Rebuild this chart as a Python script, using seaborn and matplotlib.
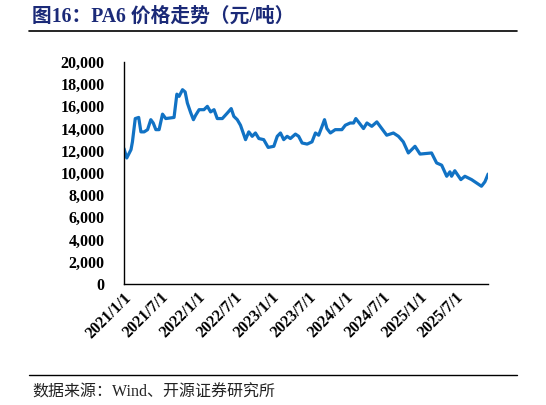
import pandas as pd
import matplotlib
matplotlib.use("Agg")
import matplotlib.pyplot as plt
from matplotlib.ticker import FuncFormatter
import seaborn as sns

# PA6 price readings (yuan/ton)
fechas = [
    "2021-01-01", "2021-01-15", "2021-02-05", "2021-02-12", "2021-02-26", "2021-03-15",
    "2021-03-26", "2021-04-11", "2021-04-28", "2021-05-14", "2021-05-26", "2021-06-08",
    "2021-06-24", "2021-07-11", "2021-07-27", "2021-09-06", "2021-09-20", "2021-10-01",
    "2021-10-18", "2021-10-31", "2021-11-11", "2021-11-28", "2021-12-11", "2021-12-22",
    "2022-01-08", "2022-02-01", "2022-02-18", "2022-03-06", "2022-03-23", "2022-04-08",
    "2022-05-03", "2022-05-28", "2022-06-16", "2022-06-29", "2022-07-16", "2022-08-01",
    "2022-08-26", "2022-09-11", "2022-09-28", "2022-10-14", "2022-10-31", "2022-11-24",
    "2022-12-16", "2023-01-13", "2023-01-30", "2023-02-15", "2023-03-03", "2023-03-20",
    "2023-04-05", "2023-04-30", "2023-05-16", "2023-06-02", "2023-06-27", "2023-07-21",
    "2023-08-07", "2023-08-23", "2023-09-09", "2023-09-21", "2023-10-03", "2023-10-20",
    "2023-11-13", "2023-12-16", "2024-01-02", "2024-01-26", "2024-02-12", "2024-02-23",
    "2024-03-11", "2024-04-01", "2024-04-18", "2024-05-12", "2024-06-06", "2024-07-25",
    "2024-08-27", "2024-09-21", "2024-10-15", "2024-11-09", "2024-12-12", "2025-01-06",
    "2025-03-04", "2025-03-29", "2025-04-23", "2025-05-18", "2025-06-03", "2025-06-11",
    "2025-06-27", "2025-07-27", "2025-08-16", "2025-09-18", "2025-11-06", "2025-11-23",
    "2025-12-09",
]
precios = [
    12200, 11350, 12100, 12800, 14900, 15000,
    13700, 13700, 13900, 14800, 14500, 13900,
    13900, 15300, 14900, 15000, 17100, 16900,
    17500, 17300, 16300, 15400, 14800, 15200,
    15700, 15700, 16000, 15500, 15700, 14900,
    14900, 15400, 15800, 15100, 14800, 14300,
    13000, 13700, 13300, 13600, 13100, 13000,
    12300, 12400, 13300, 13600, 13000, 13300,
    13100, 13500, 13300, 12700, 12600, 12800,
    13600, 13400, 14200, 14800, 14000, 13600,
    13900, 13900, 14300, 14500, 14500, 14900,
    14500, 14000, 14500, 14200, 14600, 13400,
    13600, 13300, 12800, 11800, 12400, 11700,
    11800, 10900, 10700, 9700, 10100, 9700,
    10200, 9400, 9700, 9400, 8800, 9200,
    9900,
]
etiquetas_x = ["2021/1/1", "2021/7/1", "2022/1/1", "2022/7/1", "2023/1/1",
               "2023/7/1", "2024/1/1", "2024/7/1", "2025/1/1", "2025/7/1"]

df = pd.DataFrame({"fecha": pd.to_datetime(fechas), "precio": precios})

sns.set_style("white")
plt.rcParams["font.family"] = ["Liberation Serif", "Noto Sans CJK SC", "DejaVu Sans"]

fig = plt.figure(figsize=(5.46, 4.05), dpi=100)
ax = fig.add_axes([0.227, 0.299, 0.667, 0.548])

sns.lineplot(data=df, x="fecha", y="precio", ax=ax, color="#1172c4", linewidth=2.3)

ax.set_xlim(df["fecha"].iloc[0], df["fecha"].iloc[-1])
ax.set_ylim(0, 20000)
ax.set_yticks(range(0, 20001, 2000))
ax.yaxis.set_major_formatter(FuncFormatter(lambda v, p: f"{int(v):,}"))
pos_x = pd.to_datetime([e.replace("/", "-") for e in etiquetas_x])
ax.set_xticks(pos_x)
ax.set_xticklabels(etiquetas_x, rotation=45, ha="right", rotation_mode="anchor")
ax.set_xlabel("")
ax.set_ylabel("")

for lado in ["top", "right"]:
    ax.spines[lado].set_visible(False)
for lado in ["left", "bottom"]:
    ax.spines[lado].set_color("black")
    ax.spines[lado].set_linewidth(1.0)
ax.tick_params(axis="both", direction="in", length=4, width=0.8, colors="black")
for t in ax.get_xticklabels() + ax.get_yticklabels():
    t.set_fontweight("bold")
    t.set_fontsize(11.5)
ax.tick_params(axis="x", pad=4)
ax.tick_params(axis="y", pad=14)

# titulo y fuente
fig.text(0.059, 0.958, "图16：PA6 价格走势（元/吨）", fontsize=14.2, fontweight="bold",
         color="#1b2a78", va="center", ha="left",
         family=["Liberation Serif", "Noto Sans CJK SC"])
fig.add_artist(plt.Line2D([0.053, 0.947], [0.923, 0.923], color="black", linewidth=1.2))
fig.add_artist(plt.Line2D([0.053, 0.947], [0.074, 0.074], color="black", linewidth=1.0))
fig.text(0.059, 0.030, "数据来源：Wind、开源证券研究所", fontsize=11.5, color="#222222",
         va="center", ha="left", family=["Liberation Serif", "Noto Sans CJK SC"])

fig.savefig("out.png", dpi=100)
